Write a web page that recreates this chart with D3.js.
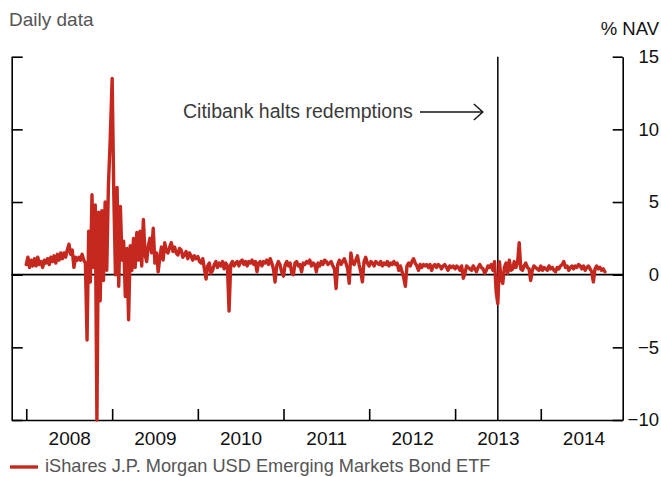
<!DOCTYPE html>
<html>
<head>
<meta charset="utf-8">
<title>EMB premium / discount</title>
<script src="https://d3js.org/d3.v7.min.js"></script>
<style>
  body { margin: 0; background: #fff; }
  text { font-family: "Liberation Sans", Arial, sans-serif; }
</style>
</head>
<body>
<script>
// weekly readings, one array per year, first value at 1 January (% of NAV)
const v2008 = [0.7, 1.2, 0.5, 1.0, 0.6, 1.1, 0.6, 1.2, 0.7, 0.9, 0.5, 1.0, 0.8, 1.1, 0.7, 1.2, 0.9, 1.3, 0.8, 1.4,
  1.0, 1.5, 1.1, 1.5, 1.2, 1.7, 2.1, 1.4, 1.7, 0.5, 1.2, 1.0, 1.2, 1.0, 1.4, 1.0, 0.8, -4.5, 3.0, -0.5,
  5.5, 0.5, 4.8, -10, 4.3, -1.8, 4.4, -0.4, 5.0, 0.3, 6.1, 9.0];
const v2009 = [13.5, 5.5, 0.0, 6.0, -0.8, 4.7, 1.0, 2.3, -1.5, 1.8, -3.1, 2.0, 0.3, 2.5, 0.5, 2.9, 1.0, 3.0, 0.6, 3.8,
  1.4, 0.9, 2.0, 2.5, 1.5, 3.2, 0.8, 1.5, 0.2, 1.2, 1.9, 1.0, 2.2, 1.6, 1.5, 1.9, 2.2, 1.6, 1.9, 1.5,
  1.35, 1.8, 1.7, 1.2, 1.35, 1.6, 1.1, 1.5, 1.3, 1.0, 1.3, 1.1];
const v2010 = [1.25, 0.9, 0.8, 1.1, 0.4, -0.3, 0.6, 0.8, 0.1, 0.3, 0.7, 0.9, 0.5, 0.8, 0.6, 0.9, 0.4, 0.8, 0.6, -2.5,
  0.7, 0.9, 0.6, 0.8, 0.9, 0.6, 0.9, 1.0, 0.7, 0.9, 0.6, 0.9, 0.8, 1.0, 0.7, 0.9, 0.2, 0.8, 0.9, 0.6,
  0.9, 0.8, 1.0, 0.7, 1.1, 0.8, 0.4, -0.5, 0.6, 0.9, 0.7, 0.2];
const v2011 = [-0.1, 0.7, 0.9, 0.6, 0.8, 0.1, 0.0, 0.8, 0.9, 0.6, 0.7, 0.2, 0.8, 0.7, 0.9, 0.8, 1.0, 0.6, 0.8, 0.7,
  0.2, 0.8, 0.6, 0.9, 0.7, 1.0, 0.9, 0.7, 0.8, 0.9, 0.6, 0.4, -0.95, 0.7, 1.0, 0.7, 0.9, 1.1, 0.8, 0.4,
  -0.6, 1.5, 0.8, 0.7, 1.0, 1.3, 0.7, 0.2, -0.5, 0.9, 1.2, 0.8];
const v2012 = [0.6, 0.9, 0.8, 0.6, 0.9, 0.8, 0.7, 0.9, 0.6, 0.8, 0.7, 0.9, 0.6, 0.8, 0.7, 0.9, 0.7, 0.8, 0.3, 0.6,
  0.2, -0.2, -0.8, 0.6, 0.8, 0.6, 0.9, 1.1, 0.8, 0.6, 0.3, 0.7, 0.5, 0.7, 0.6, 0.7, 0.5, 0.7, 0.3, 0.6,
  0.7, 0.5, 0.7, 0.6, 0.4, 0.6, 0.7, 0.5, 0.3, 0.6, 0.5, 0.6];
const v2013 = [0.4, 0.6, 0.5, 0.3, 0.6, -0.25, 0.1, 0.6, 0.5, 0.4, 0.3, 0.6, 0.4, 0.2, 0.5, 0.7, 0.5, 0.4, 0.1, 0.3,
  0.6, 0.5, 0.7, 0.3, 0.9, -1.2, -2.0, 0.9, -0.3, -0.6, 0.5, 0.8, 0.1, 1.0, 0.3, 0.4, 0.9, 0.5, 0.8, 2.2,
  0.4, 0.3, 0.6, 0.8, 0.5, 0.4, -0.4, 0.3, 0.6, 0.5, 0.4, 0.3];
const v2014 = [0.6, 0.3, 0.5, 0.4, 0.3, 0.6, 0.4, 0.5, 0.3, 0.2, 0.5, 0.4, 0.6, 0.7, 0.9, 0.5, 0.6, 0.3, 0.5, 0.6,
  0.4, 0.6, 0.5, 0.7, 0.6, 0.4, 0.6, 0.3, 0.5, 0.6, 0.4, 0.2, -0.5, 0.4, 0.6, 0.4, 0.5, 0.3, 0.4, 0.2];

const years = [2008, 2009, 2010, 2011, 2012, 2013, 2014];
const yearValues = [v2008, v2009, v2010, v2011, v2012, v2013, v2014];
const yTicks = [15, 10, 5, 0, -5, -10];
const seriesName = "iShares J.P. Morgan USD Emerging Markets Bond ETF";
const eventDate = new Date(2013, 6, 2);
const eventLabel = "Citibank halts redemptions";

const data = [];
years.forEach((yr, k) => {
  yearValues[k].forEach((v, j) => {
    data.push({ date: d3.timeWeek.offset(new Date(yr, 0, 1), j), value: v });
  });
});

const W = 661, H = 477;
const plotLeft = 11.7, plotRight = 622.7, plotTop = 56.7, plotBottom = 420;
const red = "#c4281e";

const svg = d3.select("body").append("svg")
  .attr("width", W)
  .attr("height", H);

const x = d3.scaleTime()
  .domain([new Date(2007, 9, 31), new Date(2014, 11, 16)])
  .range([plotLeft, plotRight]);

const y = d3.scaleLinear()
  .domain([-10, 15])
  .range([plotBottom, plotTop]);

// left frame with inward ticks
svg.append("g")
  .attr("transform", `translate(${plotLeft},0)`)
  .call(d3.axisRight(y).tickValues(yTicks).tickSize(11).tickSizeOuter(0).tickFormat(""));

// right axis with labels
const rightAxis = svg.append("g")
  .attr("transform", `translate(${plotRight},0)`)
  .call(d3.axisRight(y).tickValues(yTicks).tickSize(-10).tickSizeOuter(0));
rightAxis.selectAll("text")
  .attr("x", W - 2 - plotRight)
  .attr("text-anchor", "end")
  .attr("font-size", 18.5)
  .attr("fill", "#111");

// bottom: year ticks pointing up, labels in the middle of each year
svg.append("g")
  .attr("transform", `translate(0,${plotBottom})`)
  .call(d3.axisBottom(x).tickValues(years.map(yr => new Date(yr, 0, 1))).tickSize(-11).tickSizeOuter(0).tickFormat(""));

const xLabels = svg.append("g")
  .attr("transform", `translate(0,${plotBottom})`)
  .call(d3.axisBottom(x).tickValues(years.map(yr => new Date(yr, 6, 2))).tickSize(0).tickPadding(12).tickFormat(d3.timeFormat("%Y")));
xLabels.select(".domain").remove();
xLabels.selectAll("text")
  .attr("font-size", 19)
  .attr("fill", "#111");

svg.selectAll(".domain, .tick line")
  .attr("stroke", "#000")
  .attr("stroke-width", 1.6);

// zero line
svg.append("line")
  .attr("x1", plotLeft).attr("x2", plotRight)
  .attr("y1", y(0)).attr("y2", y(0))
  .attr("stroke", "#000")
  .attr("stroke-width", 1.8);

// event line
svg.append("line")
  .attr("x1", x(eventDate)).attr("x2", x(eventDate))
  .attr("y1", plotTop).attr("y2", plotBottom)
  .attr("stroke", "#000")
  .attr("stroke-width", 1.5);

// series
const line = d3.line()
  .x(d => x(d.date))
  .y(d => y(d.value));

svg.append("path")
  .datum(data)
  .attr("d", line)
  .attr("fill", "none")
  .attr("stroke", red)
  .attr("stroke-width", 3.4)
  .attr("stroke-linejoin", "round")
  .attr("stroke-linecap", "round");

// annotation
svg.append("text")
  .attr("x", 183)
  .attr("y", 118)
  .attr("font-size", 19.5)
  .attr("fill", "#3a3a3a")
  .text(eventLabel);

const ax0 = 420, ax1 = x(eventDate) - 15, ay = 112;
svg.append("line")
  .attr("x1", ax0).attr("x2", ax1)
  .attr("y1", ay).attr("y2", ay)
  .attr("stroke", "#111").attr("stroke-width", 1.4);
svg.append("path")
  .attr("d", `M${ax1 - 9},${ay - 8} L${ax1},${ay} L${ax1 - 9},${ay + 8}`)
  .attr("fill", "none")
  .attr("stroke", "#111").attr("stroke-width", 1.4);

// titles
svg.append("text")
  .attr("x", 9).attr("y", 26)
  .attr("font-size", 19)
  .attr("fill", "#555")
  .text("Daily data");

svg.append("text")
  .attr("x", W - 2).attr("y", 35)
  .attr("text-anchor", "end")
  .attr("font-size", 18.5)
  .attr("fill", "#111")
  .text("% NAV");

// legend
svg.append("line")
  .attr("x1", 10).attr("x2", 38)
  .attr("y1", 467).attr("y2", 467)
  .attr("stroke", red).attr("stroke-width", 3.4);
svg.append("text")
  .attr("x", 45).attr("y", 472)
  .attr("font-size", 18.2)
  .attr("fill", "#555")
  .text(seriesName);
</script>
</body>
</html>
